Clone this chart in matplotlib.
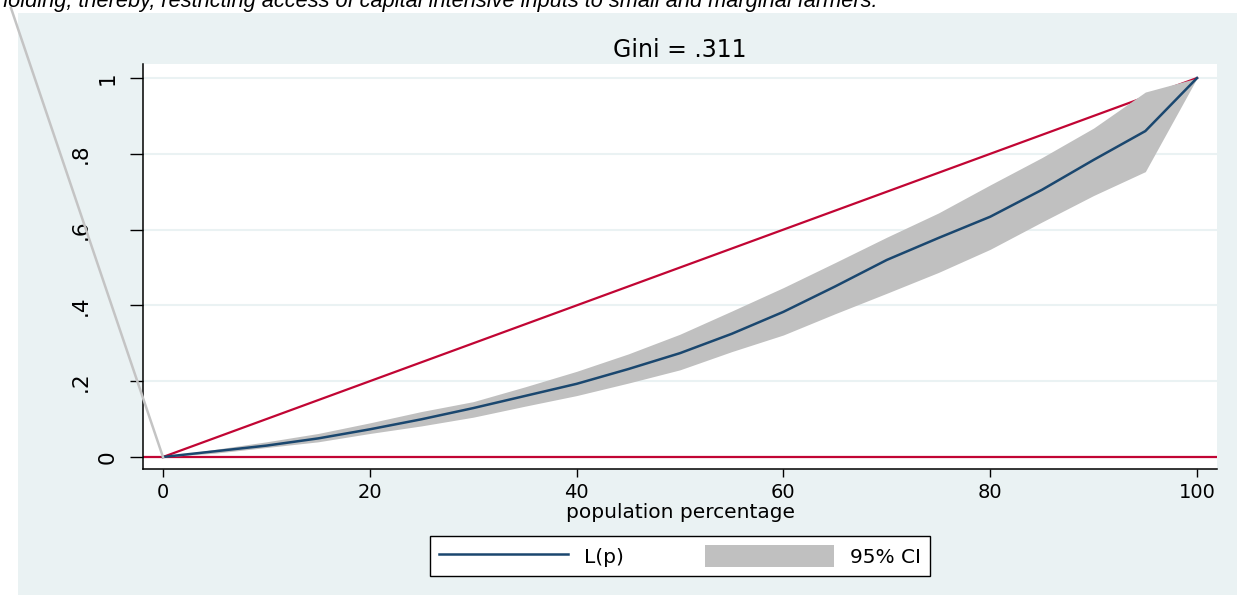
import numpy as np
import matplotlib
matplotlib.use('Agg')
import matplotlib.pyplot as plt
import matplotlib.transforms as mtransforms
from matplotlib.patches import Rectangle, Patch
from matplotlib.lines import Line2D

# dados (curva de Lorenz com IC 95%)
pop_pct = [0, 5, 10, 15, 20, 25, 30, 35, 40, 45, 50, 55, 60, 65, 70, 75, 80, 85, 90, 95, 100]
lorenz = [0, .015, .030, .049, .073, .0995, .129, .161, .193, .232, .274, .325, .383, .450, .520, .578, .634, .705, .784, .860, 1.0]
ic_sup = [0, .020, .040, .062, .090, .120, .146, .185, .226, .272, .324, .385, .447, .513, .580, .644, .718, .790, .868, .963, 1.0]
ic_inf = [0, .010, .025, .040, .062, .082, .105, .134, .162, .195, .230, .278, .322, .378, .432, .487, .548, .620, .690, .753, 1.0]
igualdade_x = [0, 100]
igualdade_y = [0, 1]

x_ticks = [0, 20, 40, 60, 80, 100]
y_ticks = [0, .2, .4, .6, .8, 1]
y_labels = ['0', '.2', '.4', '.6', '.8', '1']

titulo = 'Gini = .311'
texto_doc = 'holding, thereby, restricting access of capital intensive inputs to small and marginal farmers.'

# linha cinza do documento (fora do grafico)
risco_x = [-14.7, 0]
risco_y = [1.185, 0]

fundo = '#EAF2F3'
azul = '#1A476F'
vermelho = '#C10534'
cinza = '#C0C0C0'

plt.rcParams['font.family'] = ['DejaVu Sans']

fig = plt.figure(figsize=(12.37, 5.95), dpi=100)
fig.patch.set_facecolor('white')
fig.add_artist(Rectangle((18/1237, 0), 1 - 18/1237, (595-13)/595, transform=fig.transFigure,
                         facecolor=fundo, edgecolor='none', zorder=-2))
fig.text(-0.003, 0.988, texto_doc, fontsize=15.7, style='italic', family='Liberation Sans',
         va='baseline', ha='left', color='black')

ax = fig.add_axes([143/1237, (595-469)/595, (1217-143)/1237, (469-64)/595])
ax.set_facecolor('white')
ax.set_xlim(-1.93, 101.93)
ax.set_ylim(-0.0317, 1.037)

for yy in y_ticks:
    ax.axhline(yy, color=fundo, lw=1.5, zorder=0.5)

ax.axhline(0, color=vermelho, lw=1.6, zorder=1)
ax.plot(igualdade_x, igualdade_y, color=vermelho, lw=1.6, zorder=1)
ax.fill_between(pop_pct, ic_inf, ic_sup, color=cinza, lw=0, zorder=2)
ax.plot(pop_pct, lorenz, color=azul, lw=1.8, zorder=3)
ax.plot(risco_x, risco_y, color='#C4C4C4', lw=1.8, clip_on=False, zorder=5)

for lado in ['top', 'right']:
    ax.spines[lado].set_visible(False)
ax.spines['left'].set_linewidth(1.1)
ax.spines['bottom'].set_linewidth(1.1)

ax.set_xticks(x_ticks)
ax.set_yticks(y_ticks)
ax.set_yticklabels([])
ax.tick_params(axis='x', length=6, width=1, labelsize=14, pad=4)
ax.tick_params(axis='y', length=9.5, width=1)

# rotulos do eixo y girados (os que comecam com ponto ficam mais a esquerda, como no Stata)
for yv, lab in zip(y_ticks, y_labels):
    dx = -52 if lab.startswith('.') else -25
    tr = ax.get_yaxis_transform() + mtransforms.ScaledTranslation(dx / 100, 0, fig.dpi_scale_trans)
    ax.text(0, yv, lab, transform=tr, rotation=90, ha='right', va='center', fontsize=15.5)

ax.set_xlabel('population percentage', fontsize=14.5, labelpad=1)
ax.set_title(titulo, fontsize=17, pad=5)

handles = [Line2D([], [], color=azul, lw=1.8), Patch(facecolor=cinza, edgecolor='none')]
leg = fig.legend(handles, ['L(p)', '95% CI'], loc='center', bbox_to_anchor=(680/1237, (595-556)/595),
                 ncol=2, fontsize=14.5, frameon=True, fancybox=False, edgecolor='black', framealpha=1,
                 handlelength=6.4, handleheight=1.3, handletextpad=0.8, columnspacing=4.0,
                 borderpad=0.45, borderaxespad=0)
leg.get_frame().set_linewidth(1)

fig.savefig('out.png', dpi=100, facecolor='white')
